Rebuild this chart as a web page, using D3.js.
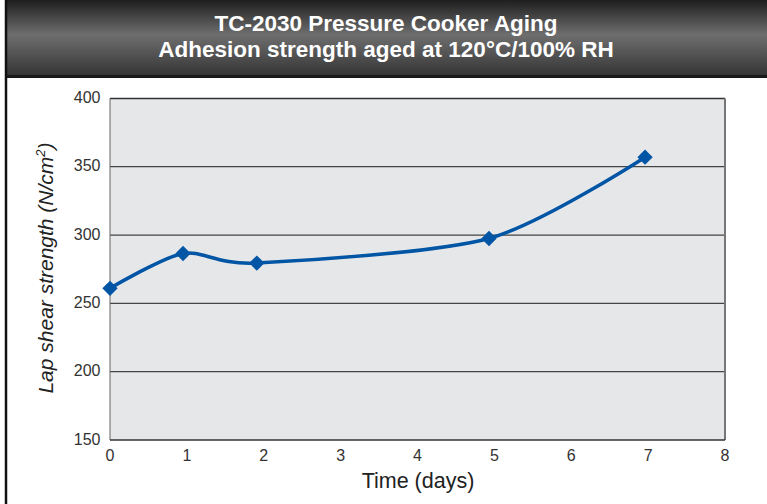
<!DOCTYPE html>
<html>
<head>
<script src="https://d3js.org/d3.v7.min.js"></script>
<style>
  body { margin: 0; background: #fff; }
  svg { display: block; }
</style>
</head>
<body>
<div id="chart"></div>
<script>
// data
var days = [0, 0.95, 1.91, 4.93, 6.96];
var strength = [261, 286.5, 279.5, 297.5, 357];
var xTicks = [0, 1, 2, 3, 4, 5, 6, 7, 8];
var yTicks = [150, 200, 250, 300, 350, 400];
var titleLines = ["TC-2030 Pressure Cooker Aging", "Adhesion strength aged at 120°C/100% RH"];

var W = 767, H = 504;
var svg = d3.select("#chart").append("svg").attr("width", W).attr("height", H);

// header gradient
var defs = svg.append("defs");
var g = defs.append("linearGradient").attr("id", "hdr").attr("x1", 0).attr("y1", 0).attr("x2", 0).attr("y2", 1);
g.append("stop").attr("offset", "0%").attr("stop-color", "#1e1e1e");
g.append("stop").attr("offset", "45%").attr("stop-color", "#6e6e6e");
g.append("stop").attr("offset", "100%").attr("stop-color", "#333");

svg.append("rect").attr("x", 5).attr("y", 0).attr("width", W - 5).attr("height", 77).attr("fill", "url(#hdr)");
svg.append("line").attr("x1", 5).attr("x2", W).attr("y1", 76.5).attr("y2", 76.5).attr("stroke", "#1a1a1a").attr("stroke-width", 3);
svg.append("line").attr("x1", 6).attr("x2", 6).attr("y1", 0).attr("y2", H).attr("stroke", "#111").attr("stroke-width", 2.5);

svg.selectAll(".title").data(titleLines).enter().append("text")
  .attr("x", 386).attr("y", function(d, i) { return 31 + i * 26; })
  .attr("text-anchor", "middle")
  .attr("fill", "#fff")
  .style("font-family", "'Liberation Sans', Arial, sans-serif")
  .style("font-weight", "bold")
  .style("font-size", "22.5px")
  .text(function(d) { return d; });

var m = { left: 110, right: 725, top: 98.4, bottom: 440 };
var x = d3.scaleLinear().domain([0, 8]).range([m.left, m.right]);
var y = d3.scaleLinear().domain([150, 400]).range([m.bottom, m.top]);

svg.append("rect").attr("x", m.left).attr("y", m.top).attr("width", m.right - m.left).attr("height", m.bottom - m.top).attr("fill", "#e6e7e9");

// gridlines
svg.append("g").selectAll("line").data(yTicks.filter(function(d) { return d > 150 && d < 400; })).enter().append("line")
  .attr("x1", m.left).attr("x2", m.right)
  .attr("y1", function(d) { return y(d); }).attr("y2", function(d) { return y(d); })
  .attr("stroke", "#444").attr("stroke-width", 1.2);

// frame
svg.append("line").attr("x1", m.left).attr("x2", m.right).attr("y1", m.top).attr("y2", m.top).attr("stroke", "#333").attr("stroke-width", 1.5);
svg.append("line").attr("x1", m.right).attr("x2", m.right).attr("y1", m.top).attr("y2", m.bottom).attr("stroke", "#777").attr("stroke-width", 2);
svg.append("line").attr("x1", m.left).attr("x2", m.left).attr("y1", m.top).attr("y2", m.bottom).attr("stroke", "#666").attr("stroke-width", 1);
svg.append("line").attr("x1", m.left).attr("x2", m.right).attr("y1", m.bottom).attr("y2", m.bottom).attr("stroke", "#333").attr("stroke-width", 1.5);

// tick labels
var tickFont = "'Liberation Sans', Arial, sans-serif";
svg.append("g").selectAll("text").data(yTicks).enter().append("text")
  .attr("x", 100.5).attr("y", function(d) { return y(d) + 4.5; })
  .attr("text-anchor", "end").attr("fill", "#333")
  .style("font-family", tickFont).style("font-size", "16px")
  .text(function(d) { return d; });

svg.append("g").selectAll("text").data(xTicks).enter().append("text")
  .attr("x", function(d) { return x(d); }).attr("y", 461)
  .attr("text-anchor", "middle").attr("fill", "#333")
  .style("font-family", tickFont).style("font-size", "16px")
  .text(function(d) { return d; });

// axis titles
svg.append("text").attr("x", 418).attr("y", 488).attr("text-anchor", "middle").attr("fill", "#222")
  .style("font-family", tickFont).style("font-size", "21.5px").text("Time (days)");

var yl = svg.append("text").attr("transform", "translate(53,268) rotate(-90)").attr("text-anchor", "middle").attr("fill", "#222")
  .style("font-family", tickFont).style("font-size", "21px").style("font-style", "italic");
yl.append("tspan").text("Lap shear strength (N/cm");
yl.append("tspan").attr("dy", -8).style("font-size", "13px").text("2");
yl.append("tspan").attr("dy", 8).text(")");

// series
var pts = days.map(function(d, i) { return [d, strength[i]]; });
var line = d3.line().x(function(d) { return x(d[0]); }).y(function(d) { return y(d[1]); }).curve(d3.curveCardinal.tension(0.2));
svg.append("path").datum(pts).attr("d", line).attr("fill", "none").attr("stroke", "#0055a5").attr("stroke-width", 3.5);

svg.append("g").selectAll("path").data(pts).enter().append("path")
  .attr("d", d3.symbol().type(d3.symbolDiamond2).size(150))
  .attr("transform", function(d) { return "translate(" + x(d[0]) + "," + y(d[1]) + ")"; })
  .attr("fill", "#0055a5");
</script>
</body>
</html>
